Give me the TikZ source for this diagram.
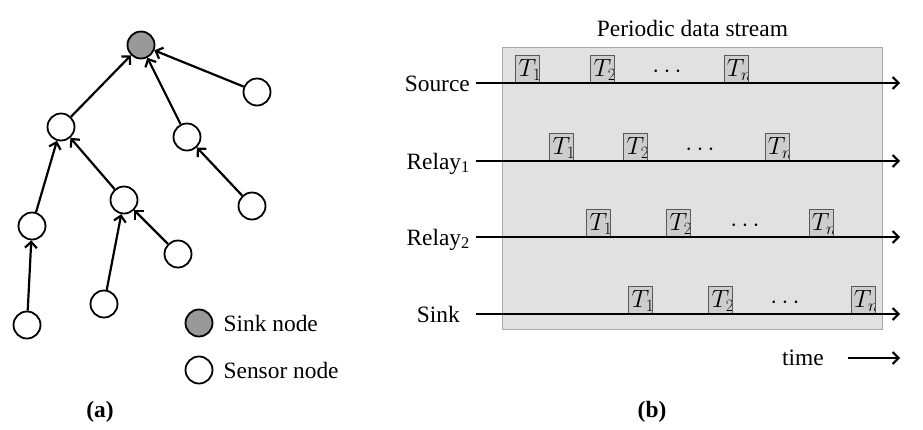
\documentclass[tikz,border=0pt]{standalone}
\usepackage{fontspec}
\setmainfont{Liberation Serif}
\usepackage{tikz}
\usetikzlibrary{arrows.meta,positioning}
\definecolor{pback}{HTML}{E1E1E1}
\definecolor{pframe}{HTML}{A9A9A9}
\definecolor{pslot}{HTML}{CDCDCD}
\definecolor{psink}{HTML}{999999}

\tikzset{
  sensor/.style={circle,draw,line width=1.8pt,fill=white,minimum size=27pt,inner sep=0pt},
  sinknode/.style={sensor,fill=psink},
  lbl/.style={inner sep=0pt},
  uplink/.style={line width=2.2pt,-{Straight Barb[length=6pt,width=12pt]}},
  tline/.style={line width=2.1pt,-{Straight Barb[length=6pt,width=12pt]}},
  slot/.style={draw=black!65,fill=pslot,line width=0.9pt,minimum width=24pt,
    minimum height=27pt,inner sep=0pt,anchor=south,
    path picture={\node[anchor=base west,inner sep=0pt]
      at ([xshift=2.5pt,yshift=6pt]path picture bounding box.south west) {$T_{#1}$};}},
}

\begin{document}
\begin{tikzpicture}[x=1pt,y=-1pt,font=\fontsize{23.4}{28}\selectfont]
  \useasboundingbox (0,0) rectangle (923,429);

  % (a) tree
  \node[sinknode] (sink) at (141,45) {};
  \node[sensor] (ur) at (257,92) {};
  \node[sensor] (ml) at (61,127) {};
  \node[sensor] (mr) at (187,137) {};
  \node[sensor] (ll) at (32,226) {};
  \node[sensor] (lc) at (124,200) {};
  \node[sensor] (lr) at (252,206) {};
  \node[sensor] (bc) at (178,254) {};
  \node[sensor] (bm) at (104,304) {};
  \node[sensor] (bl) at (27,325) {};

  \draw[uplink] (ml) -- (sink);
  \draw[uplink] (ur) -- (sink);
  \draw[uplink] (mr) -- (sink);
  \draw[uplink] (ll) -- (ml);
  \draw[uplink] (lc) -- (ml);
  \draw[uplink] (lr) -- (mr);
  \draw[uplink] (bl) -- (ll);
  \draw[uplink] (bm) -- (lc);
  \draw[uplink] (bc) -- (lc);

  \node[sinknode] (lgsink) at (199,323) {};
  \node[lbl,right=10pt of lgsink] (lgsinkt) {Sink node};
  \node[sensor] (lgsensor) at (199,370) {};
  \node[lbl,right=10pt of lgsensor] (lgsensort) {Sensor node};

  \node[lbl] (capa) at (100,412) {\textbf{(a)}};

  % (b) periodic stream
  \node[draw=pframe,fill=pback,line width=0.8pt,minimum width=380pt,
        minimum height=282pt,anchor=north west,inner sep=0pt] (panel) at (502,47) {};
  \node[lbl,above=10pt of panel] (title) {Periodic data stream};

  \node[slot={1}] (s1) at (527,83) {};
  \node[slot={2}] (s2) at (602,83) {};
  \node[lbl,anchor=base] (sdots) at (667,77) {$\cdots$};
  \node[slot={n}] (sn) at (736,83) {};

  \node[slot={1}] (ra1) at (561,161) {};
  \node[slot={2}] (ra2) at (635,161) {};
  \node[lbl,anchor=base] (radots) at (700,155) {$\cdots$};
  \node[slot={n}] (ran) at (777,161) {};

  \node[slot={1}] (rb1) at (598,237) {};
  \node[slot={2}] (rb2) at (678,237) {};
  \node[lbl,anchor=base] (rbdots) at (745,231) {$\cdots$};
  \node[slot={n}] (rbn) at (821,237) {};

  \node[slot={1}] (k1) at (640,314) {};
  \node[slot={2}] (k2) at (720,314) {};
  \node[lbl,anchor=base] (kdots) at (785,308) {$\cdots$};
  \node[slot={n}] (kn) at (863,314) {};

  \node[lbl,anchor=base east] (srcl) at (470,91) {Source};
  \node[lbl,anchor=base east] (relal) at (470,169) {Relay\textsubscript{1}};
  \node[lbl,anchor=base east] (relbl) at (470,245) {Relay\textsubscript{2}};
  \node[lbl,anchor=base east] (sinkl) at (460,322) {Sink};

  \coordinate (srcA) at (476,83);  \coordinate (srcB) at (900,83);
  \coordinate (relaA) at (476,161); \coordinate (relaB) at (900,161);
  \coordinate (relbA) at (476,237); \coordinate (relbB) at (900,237);
  \coordinate (sinkA) at (476,314); \coordinate (sinkB) at (900,314);
  \draw[tline] (srcA) -- (srcB);
  \draw[tline] (relaA) -- (relaB);
  \draw[tline] (relbA) -- (relbB);
  \draw[tline] (sinkA) -- (sinkB);

  \node[lbl] (time) at (803,358) {time};
  \coordinate (timeA) at (848,358); \coordinate (timeB) at (900,358);
  \draw[tline] (timeA) -- (timeB);

  \node[lbl] (capb) at (652,412) {\textbf{(b)}};
\end{tikzpicture}
\end{document}
